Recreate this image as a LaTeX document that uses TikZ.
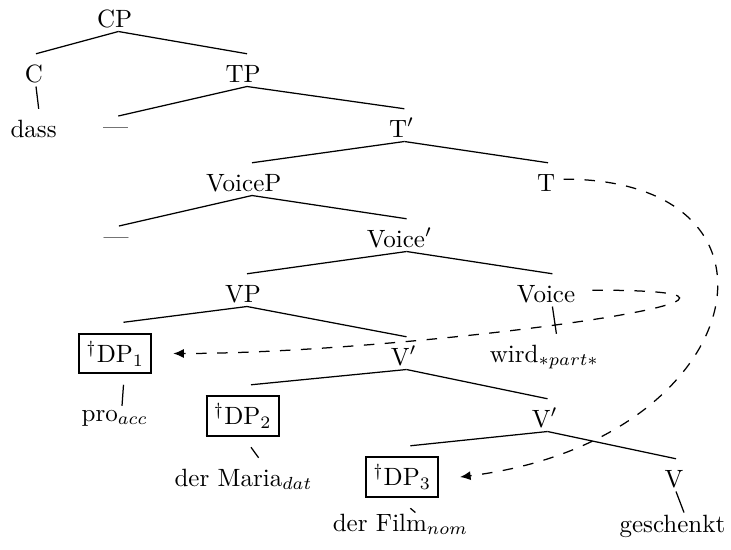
\documentclass[tikz,border=0pt]{standalone}
\usetikzlibrary{arrows.meta}
\newcommand\padr[1]{\setbox0=\hbox{#1}\copy0\kern0.22\wd0\relax}
\setlength{\fboxsep}{2.5pt}
\setlength{\fboxrule}{0.8pt}
\begin{document}
\begin{tikzpicture}[x=0.4pt,y=-0.4pt,
  cat/.style={anchor=base, inner xsep=1.6pt, inner ysep=1.6pt, text height=9.5pt, text depth=0pt},
  gap/.style={cat, text height=5.6pt},
  box/.style={anchor=center, inner xsep=1.6pt, inner ysep=4pt},
  edge/.style={line width=0.5pt},
  move/.style={line width=0.5pt, dash pattern=on 4.2pt off 4.2pt, -{Latex[length=4.2pt,width=3.6pt]}}]
\useasboundingbox (0,0) rectangle (731,549);
% nodes
\node[cat] (CP) at (118.4,27) {\padr{CP}};
\node[cat] (C) at (36,82) {\padr{C}};
\node[cat] (TP) at (247,82) {\padr{TP}};
\node[cat] (dass) at (38.7,137) {\padr{dass}};
\node[gap] (d1) at (118.3,134.5) {\padr{---}};
\node[cat] (Tbar) at (404.4,137) {\padr{T$'$}};
\node[cat] (VoiceP) at (252,191) {\padr{VoiceP}};
\node[cat] (T) at (548,191) {\padr{T}};
\node[gap] (d2) at (118.9,244.5) {\padr{---}};
\node[cat] (Voicebar) at (406.6,247) {\padr{Voice$'$}};
\node[cat] (VP) at (247,302) {\padr{VP}};
\node[cat] (Voice) at (552.4,302) {\padr{Voice}};
\node[box] (DP1) at (123.5,353.5) {\padr{\fbox{$^\dagger$DP$_1$}}};
\node[cat] (Vbar1) at (406.5,365) {\padr{V$'$}};
\node[cat] (wird) at (556.4,362) {\padr{wird$_{*part*}$}};
\node[cat, text height=4.3pt] (pro) at (122,421) {\padr{pro$_{acc}$}};
\node[box] (DP2) at (251,416) {\padr{\fbox{$^\dagger$DP$_2$}}};
\node[cat] (Vbar2) at (547.5,427) {\padr{V$'$}};
\node[cat] (maria) at (258.6,486) {\padr{der Maria$_{dat}$}};
\node[box] (DP3) at (410.3,477) {\padr{\fbox{$^\dagger$DP$_3$}}};
\node[cat] (V) at (676,487) {\padr{V}};
\node[cat, text height=5.6pt] (film) at (415.4,531) {\padr{der Film$_{nom}$}};
\node[cat, text height=6pt] (gesch) at (684,532) {\padr{geschenkt}};
% branches
\draw[edge] (CP.south) -- (C.north);
\draw[edge] (CP.south) -- (TP.north);
\draw[edge] (C.south) -- (dass.north);
\draw[edge] (TP.south) -- (d1.north);
\draw[edge] (TP.south) -- (Tbar.north);
\draw[edge] (Tbar.south) -- (VoiceP.north);
\draw[edge] (Tbar.south) -- (T.north);
\draw[edge] (VoiceP.south) -- (d2.north);
\draw[edge] (VoiceP.south) -- (Voicebar.north);
\draw[edge] (Voicebar.south) -- (VP.north);
\draw[edge] (Voicebar.south) -- (Voice.north);
\draw[edge] (Voice.south) -- (wird.north);
\draw[edge] (VP.south) -- (DP1.north);
\draw[edge] (VP.south) -- (Vbar1.north);
\draw[edge] (DP1.south) -- (pro.north);
\draw[edge] (Vbar1.south) -- (DP2.north);
\draw[edge] (Vbar1.south) -- (Vbar2.north);
\draw[edge] (DP2.south) -- (maria.north);
\draw[edge] (Vbar2.south) -- (DP3.north);
\draw[edge] (Vbar2.south) -- (V.north);
\draw[edge] (DP3.south) -- (film.north);
\draw[edge] (V.south) -- (gesch.north);
% movement arrows
\draw[move] (Voice.east) .. controls +(279,0) and +(238,0) .. (DP1.east);
\draw[move] (T.east) .. controls +(245,0) and +(290,-36) .. (DP3.east);
\end{tikzpicture}
\end{document}
